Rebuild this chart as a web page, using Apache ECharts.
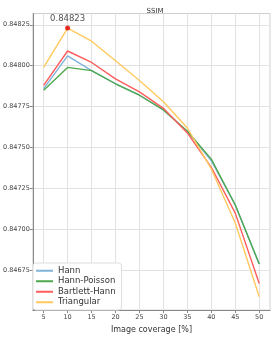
<!DOCTYPE html>
<html><head><meta charset="utf-8">
<script src="https://cdn.jsdelivr.net/npm/echarts@6/dist/echarts.min.js"></script>
<style>html,body{margin:0;padding:0;background:#fff}#c{width:274px;height:339px}</style>
</head><body><div id="c"></div>
<script>
const coverage = [5, 10, 15, 20, 25, 30, 35, 40, 45, 50];
const hann = [0.84786, 0.84806, 0.84797, 0.84789, 0.84782, 0.84773, 0.84760, 0.84742, 0.84715, 0.84679];
const hannPoisson = [0.84785, 0.84799, 0.84797, 0.84789, 0.84782, 0.84773, 0.84760, 0.84743, 0.84715, 0.84679];
const bartlettHann = [0.84788, 0.84809, 0.84802, 0.84792, 0.84784, 0.84774, 0.84759, 0.84738, 0.84710, 0.84667];
const triangular = [0.84799, 0.84823, 0.84815, 0.84803, 0.84791, 0.84778, 0.84762, 0.84737, 0.84704, 0.84659];
const seriesNames = ['Hann', 'Hann-Poisson', 'Bartlett-Hann', 'Triangular'];
const xTicks = [5, 10, 15, 20, 25, 30, 35, 40, 45, 50];
const yTicks = [0.84675, 0.84700, 0.84725, 0.84750, 0.84775, 0.84800, 0.84825];
const peakIndex = 1;

const colors = ['#7fb3d9', '#4ea84e', '#ff5c5c', '#ffc95e'];
const all = [hann, hannPoisson, bartlettHann, triangular];
const font = 'DejaVu Sans';
const chart = echarts.init(document.getElementById('c'), null, {renderer: 'canvas'});
const lineSeries = all.map((arr, i) => ({
  name: seriesNames[i], type: 'line', showSymbol: false, symbol: 'none',
  data: coverage.map((x, j) => [x, arr[j]]),
  lineStyle: {width: 1.4, color: colors[i]}, itemStyle: {color: colors[i]},
  z: 2 + i, animation: false
}));
lineSeries.push({
  type: 'scatter', data: [[coverage[peakIndex], triangular[peakIndex]]],
  symbolSize: 5, itemStyle: {color: '#e00000'}, z: 10, animation: false,
  label: {show: true, position: 'top', distance: 2, formatter: p => p.value[1].toFixed(5),
    fontFamily: font, fontSize: 8.5, color: '#222'}
});
chart.setOption({
  animation: false,
  title: {text: 'SSIM', left: 150, top: 3, textAlign: 'center',
    textStyle: {fontFamily: font, fontSize: 7, fontWeight: 'normal', color: '#333'}},
  grid: {left: 30, right: 4, top: 13.5, bottom: 22, show: true, borderColor: '#cfcfcf', borderWidth: 1},
  legend: {data: seriesNames, orient: 'vertical', left: 33, top: 263,
    backgroundColor: '#fff', borderColor: '#ddd', borderWidth: 1, borderRadius: 3,
    padding: [3, 6, 3, 3], itemGap: 1, itemWidth: 17, itemHeight: 2, icon: 'rect',
    textStyle: {fontFamily: font, fontSize: 8.5, color: '#333', lineHeight: 9.5}},
  xAxis: {type: 'value', min: 2.75, max: 52.25,
    name: 'Image coverage [%]', nameLocation: 'middle', nameGap: 15,
    nameTextStyle: {fontFamily: font, fontSize: 8, color: '#333'},
    axisLine: {show: true, lineStyle: {color: '#888'}},
    axisTick: {show: true, length: 3, customValues: xTicks, lineStyle: {color: '#888'}},
    axisLabel: {customValues: xTicks, fontFamily: font, fontSize: 6.5, color: '#444', margin: 4},
    splitLine: {show: true, lineStyle: {color: '#e2e2e2'}}},
  yAxis: {type: 'value', min: 0.846508, max: 0.848319,
    axisLine: {show: true, lineStyle: {color: '#888'}},
    axisTick: {show: true, length: 3, customValues: yTicks, lineStyle: {color: '#888'}},
    axisLabel: {customValues: yTicks, formatter: v => v.toFixed(5), fontFamily: font, fontSize: 6.5, color: '#444', margin: 3},
    splitLine: {show: true, lineStyle: {color: '#e2e2e2'}}},
  series: lineSeries
});
</script></body></html>
